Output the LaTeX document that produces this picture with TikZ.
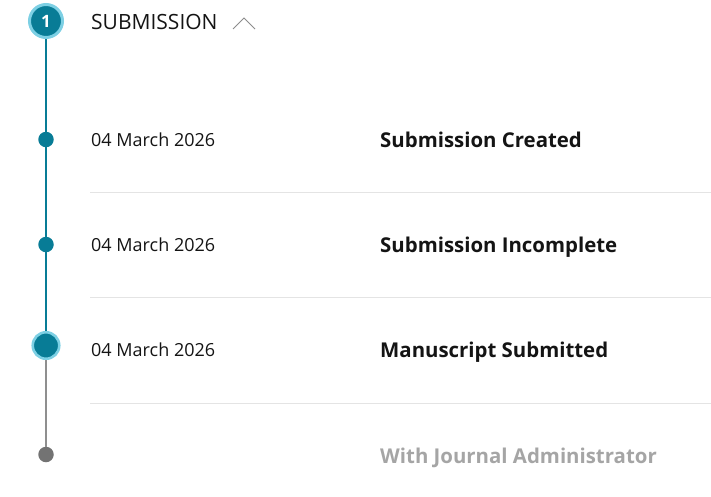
\documentclass[tikz,border=0pt]{standalone}
\usepackage{fontspec}
\setmainfont{Open Sans}
\definecolor{teal1}{RGB}{8,124,150}
\definecolor{ring}{RGB}{125,208,228}
\definecolor{sep}{RGB}{228,228,228}
\definecolor{greydot}{RGB}{115,115,115}
\definecolor{greytxt}{RGB}{165,165,165}
\begin{document}
\begin{tikzpicture}[x=1pt,y=-1pt,
  bigdot/.style={circle,inner sep=0pt,fill=teal1,draw=ring,line width=2.6pt},
  smalldot/.style={circle,inner sep=0pt,minimum size=15.5pt,fill=teal1},
  datetxt/.style={anchor=base west,inner sep=0pt,font=\fontsize{18}{20}\selectfont,text=black!92},
  titletxt/.style={anchor=base west,inner sep=0pt,font=\fontsize{20.4}{23}\selectfont\bfseries,text=black!92},
  sepline/.style={draw=sep,line width=1pt},
  tealline/.style={draw=teal1,line width=1.5pt},
  greyline/.style={draw=greydot!80,line width=1.5pt}]
\useasboundingbox (0,0) rectangle (711,496);
% circles
\node[bigdot,minimum size=33pt,line width=3pt,text=white,font=\fontsize{17}{18}\selectfont\bfseries] (n1) at (46,21) {1};
\node[smalldot] (d1) at (46,139.5) {};
\node[smalldot] (d2) at (46,244.5) {};
\node[bigdot,minimum size=26.5pt] (d3) at (46,345.5) {};
\node[smalldot,fill=greydot] (d4) at (46,454.5) {};
% timeline
\draw[tealline] (n1.south) -- (d1.north);
\draw[tealline] (d1.south) -- (d2.north);
\draw[tealline] (d2.south) -- (d3.north);
\draw[greyline] (d3.south) -- (d4.north);
% header
\node[anchor=base west,inner sep=0pt,font=\fontsize{21}{23}\selectfont,text=black!92] (head) at (91,29) {SUBMISSION};
\coordinate (cva) at (233,29);
\coordinate (cvb) at (244,18);
\coordinate (cvc) at (255,29);
\draw[draw=black!45,line width=0.8pt] (cva) -- (cvb) -- (cvc);
% rows
\node[datetxt] (t1) at (91,146) {04 March 2026};
\node[titletxt] (s1) at (380,147) {Submission Created};
\node[datetxt] (t2) at (91,251) {04 March 2026};
\node[titletxt] (s2) at (380,252) {Submission Incomplete};
\node[datetxt] (t3) at (91,356) {04 March 2026};
\node[titletxt] (s3) at (380,357) {Manuscript Submitted};
\node[titletxt,text=greytxt] (s4) at (380,463) {With Journal Administrator};
% separators
\coordinate (l1a) at (90,192); \coordinate (l1b) at (711,192);
\coordinate (l2a) at (90,297); \coordinate (l2b) at (711,297);
\coordinate (l3a) at (90,403); \coordinate (l3b) at (711,403);
\draw[sepline] (l1a) -- (l1b);
\draw[sepline] (l2a) -- (l2b);
\draw[sepline] (l3a) -- (l3b);
\end{tikzpicture}
\end{document}
